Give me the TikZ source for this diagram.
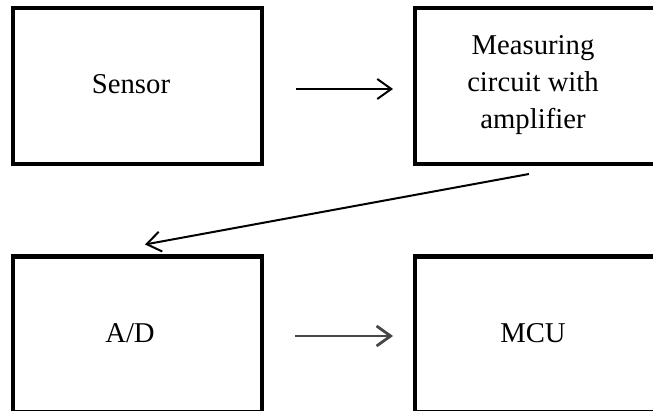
\documentclass[tikz,border=0pt]{standalone}
\usepackage{fontspec}
\setmainfont{Liberation Serif}
\usetikzlibrary{arrows.meta,calc}

\begin{document}
\begin{tikzpicture}[x=1pt, y=-1pt,
    blockbox/.style={draw, line width=4.5pt, minimum width=249pt, minimum height=156pt, inner sep=0pt, outer sep=0pt},
    blocktext/.style={font=\fontsize{28.7}{37}\selectfont, align=center, inner sep=0pt},
    flowarrow/.style={line width=2pt, -{Straight Barb[length=14pt, width=20pt]}}]
      \useasboundingbox (0,0) rectangle (653,411);
      \clip (0,0) rectangle (653,411);
      % boxes
      \node[blockbox] (sensorbox) at (137.5,86) {};
      \node[blockbox] (measbox) at (539.5,86) {};
      \node[blockbox] (adbox) at (137.5,334.5) {};
      \node[blockbox] (mcubox) at (539.5,334.5) {};
      % texts
      \node[blocktext] (sensortext) at (131,84) {Sensor};
      \node[blocktext] (meastext) at (533,85) {Measuring\\circuit with\\amplifier};
      \node[blocktext] (adtext) at (130,333) {A/D};
      \node[blocktext] (mcutext) at (533,333) {MCU};
      % arrows
      \draw[flowarrow, shorten <=34pt, shorten >=22pt] ([yshift=-3pt]sensorbox.east) -- ([yshift=-3pt]measbox.west);
      \draw[flowarrow] ($(measbox.south)+(-10.5,10)$) -- ($(adbox.north)+(7.5,-12)$);
      \draw[flowarrow, line width=2.8pt, black!72, shorten <=33pt, shorten >=22pt] ([yshift=-1.5pt]adbox.east) -- ([yshift=-1.5pt]mcubox.west);
\end{tikzpicture}
\end{document}
